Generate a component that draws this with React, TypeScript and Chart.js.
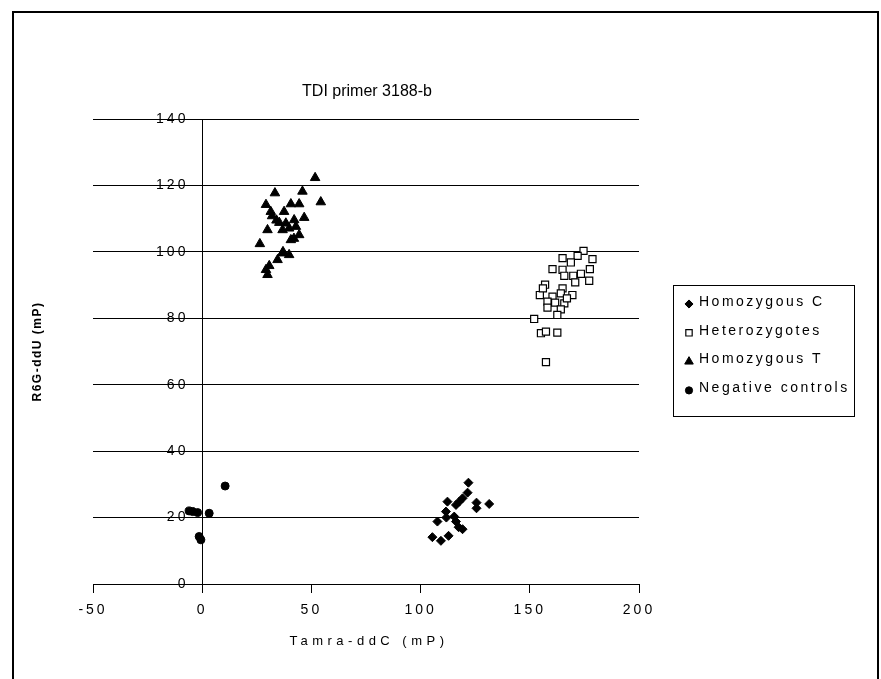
import React, { useEffect, useRef } from 'react';
import { Chart, registerables } from 'chart.js';
import * as helpers from 'chart.js/helpers';

Chart.register(...registerables);

const FONT = '"Liberation Sans", Arial, Helvetica, sans-serif';

const chartTitle = 'TDI primer 3188-b';
const xAxisTitle = 'Tamra-ddC (mP)';
const yAxisTitle = 'R6G-ddU (mP)';

const xMin = -50;
const xMax = 200;
const xStep = 50;
const yMin = 0;
const yMax = 140;
const yStep = 20;

const seriesNames = ['Homozygous C', 'Heterozygotes', 'Homozygous T', 'Negative controls'];

const homCX = [121.9, 121.5, 119.2, 117.7, 112.3, 116.2, 125.6, 131.4, 125.6, 111.6, 115.4, 107.7, 116.2, 117.4, 119.2, 105.4, 109.3, 112.8, 111.8];
const homCY = [30.5, 27.5, 25.8, 24.8, 24.8, 23.8, 24.5, 24.1, 22.8, 21.8, 20.3, 18.8, 18.8, 17.1, 16.5, 14.1, 13.0, 14.5, 20.0];

const hetX = [174.6, 165.0, 171.9, 178.7, 168.8, 160.4, 165.0, 177.5, 173.4, 165.8, 169.9, 177.2, 170.8, 157.0, 154.6, 165.0, 160.4, 164.2, 169.5, 158.1, 161.6, 165.8, 158.1, 164.2, 162.6, 152.0, 155.1, 157.4, 162.6, 157.4, 156.0, 167.0];
const hetY = [100.3, 98.1, 98.8, 97.8, 96.8, 94.8, 94.6, 94.8, 93.4, 92.8, 92.8, 91.3, 90.8, 90.1, 87.0, 89.0, 86.5, 87.5, 87.0, 85.0, 84.7, 84.5, 83.2, 82.7, 81.0, 79.8, 75.5, 76.0, 75.7, 66.8, 89.0, 86.0];

const homTX = [51.7, 33.3, 45.9, 54.3, 29.2, 40.6, 44.4, 31.4, 37.5, 46.7, 32.0, 35.3, 38.3, 42.1, 42.9, 39.8, 29.9, 36.8, 44.4, 40.6, 26.4, 42.0, 36.8, 39.8, 34.5, 30.7, 29.2, 29.9, 34.0, 37.0];
const homTY = [122.3, 117.7, 118.2, 115.0, 114.2, 114.4, 114.4, 112.1, 112.1, 110.3, 110.8, 108.8, 108.6, 109.6, 107.6, 107.1, 106.6, 106.6, 105.1, 103.6, 102.4, 104.0, 99.6, 99.1, 97.6, 95.8, 94.6, 93.1, 109.5, 100.0];

const negX = [10.5, -6.0, -4.4, -2.1, 3.2, -1.4, -0.6];
const negY = [29.5, 22.0, 21.8, 21.5, 21.3, 14.3, 13.3];

const toPoints = (xs: number[], ys: number[]) => xs.map((x, i) => ({ x, y: ys[i] }));

const textPlugin = {
  id: 'textPlugin',
  beforeDraw(chart: any) {
    chart.ctx.letterSpacing = '3px';
  },
  afterDatasetsDraw(chart: any) {
    chart.ctx.letterSpacing = '0px';
  },
  afterDraw(chart: any) {
    const ctx = chart.ctx as CanvasRenderingContext2D;
    const ca = chart.chartArea;
    const cx = (ca.left + ca.right) / 2;
    const cy = (ca.top + ca.bottom) / 2;
    ctx.save();
    ctx.fillStyle = '#000';
    ctx.strokeStyle = '#000';

    // chart title
    (ctx as any).letterSpacing = '0px';
    ctx.font = `16px ${FONT}`;
    ctx.textAlign = 'center';
    ctx.textBaseline = 'middle';
    ctx.fillText(chartTitle, cx + 1, 92);

    // x axis title
    (ctx as any).letterSpacing = '4.5px';
    ctx.font = `13px ${FONT}`;
    ctx.fillText(xAxisTitle, cx + 3, 641);

    // y axis title
    ctx.save();
    ctx.translate(38, cy);
    ctx.rotate(-Math.PI / 2);
    (ctx as any).letterSpacing = '1.5px';
    ctx.font = `bold 12px ${FONT}`;
    ctx.fillText(yAxisTitle, 0, 0);
    ctx.restore();

    // legend
    const boxL = 673, boxT = 285, boxR = 854, boxB = 416;
    ctx.lineWidth = 1;
    ctx.strokeRect(boxL + 0.5, boxT + 0.5, boxR - boxL, boxB - boxT);
    ctx.textAlign = 'left';
    ctx.textBaseline = 'middle';
    (ctx as any).letterSpacing = '2.5px';
    ctx.font = `14px ${FONT}`;
    chart.data.datasets.forEach((ds: any, i: number) => {
      const y = 302 + i * 28.8;
      ctx.fillStyle = ds.pointBackgroundColor;
      ctx.strokeStyle = ds.pointBorderColor;
      ctx.lineWidth = ds.pointBorderWidth;
      helpers.drawPoint(ctx, { pointStyle: ds.pointStyle, radius: ds.pointRadius * 0.9, rotation: 0, borderWidth: ds.pointBorderWidth }, 689, y + 2);
      ctx.fillStyle = '#000';
      ctx.fillText(ds.label, 699, y);
    });
    ctx.restore();
  },
};

export default function App() {
  const ref = useRef<HTMLCanvasElement | null>(null);
  useEffect(() => {
    if (!ref.current) return;
    const tickFont = { family: FONT, size: 14 };
    const chart = new Chart(ref.current, {
      type: 'scatter',
      data: {
        datasets: [
          {
            label: seriesNames[0],
            data: toPoints(homCX, homCY),
            pointStyle: 'rectRot',
            pointRadius: 4.5,
            pointBackgroundColor: '#000',
            pointBorderColor: '#000',
            pointBorderWidth: 1,
          },
          {
            label: seriesNames[1],
            data: toPoints(hetX, hetY),
            pointStyle: 'rect',
            pointRadius: 5,
            pointBackgroundColor: '#fff',
            pointBorderColor: '#000',
            pointBorderWidth: 1.2,
          },
          {
            label: seriesNames[2],
            data: toPoints(homTX, homTY),
            pointStyle: 'triangle',
            pointRadius: 5.5,
            pointBackgroundColor: '#000',
            pointBorderColor: '#000',
            pointBorderWidth: 1,
          },
          {
            label: seriesNames[3],
            data: toPoints(negX, negY),
            pointStyle: 'circle',
            pointRadius: 4,
            pointBackgroundColor: '#000',
            pointBorderColor: '#000',
            pointBorderWidth: 1,
          },
        ] as any,
      },
      options: {
        animation: false,
        responsive: false,
        devicePixelRatio: 1,
        layout: { padding: { left: 93, right: 242, top: 119, bottom: 95 } },
        plugins: {
          legend: { display: false },
          title: { display: false },
          tooltip: { enabled: false },
        },
        scales: {
          x: {
            type: 'linear',
            position: { y: 0 } as any,
            min: xMin,
            max: xMax,
            ticks: { stepSize: xStep, color: '#000', font: tickFont, padding: 10 },
            grid: { drawOnChartArea: false, drawTicks: true, tickLength: 8, color: '#000', lineWidth: 1 },
            border: { display: true, color: '#000', width: 1 },
          },
          y: {
            type: 'linear',
            position: { x: 0 } as any,
            min: yMin,
            max: yMax,
            ticks: {
              stepSize: yStep,
              color: '#000',
              font: tickFont,
              padding: 8,
              callback: (v: any) => `${v}  `,
            },
            grid: { drawOnChartArea: true, drawTicks: true, tickLength: 8, color: '#000', lineWidth: 1 },
            border: { display: true, color: '#000', width: 1 },
          },
        },
      },
      plugins: [textPlugin],
    });
    return () => chart.destroy();
  }, []);

  return (
    <div style={{ position: 'fixed', left: 0, top: 0, width: 881, height: 679, background: '#fff', overflow: 'hidden' }}>
      <canvas ref={ref} width={881} height={679} style={{ display: 'block', width: 881, height: 679 }} />
      <div
        style={{
          position: 'absolute',
          left: 12,
          top: 11,
          width: 881 - 12 - 2 - 4,
          height: 720,
          borderTop: '2px solid #000',
          borderLeft: '2px solid #000',
          borderRight: '2px solid #000',
          pointerEvents: 'none',
        }}
      />
    </div>
  );
}
